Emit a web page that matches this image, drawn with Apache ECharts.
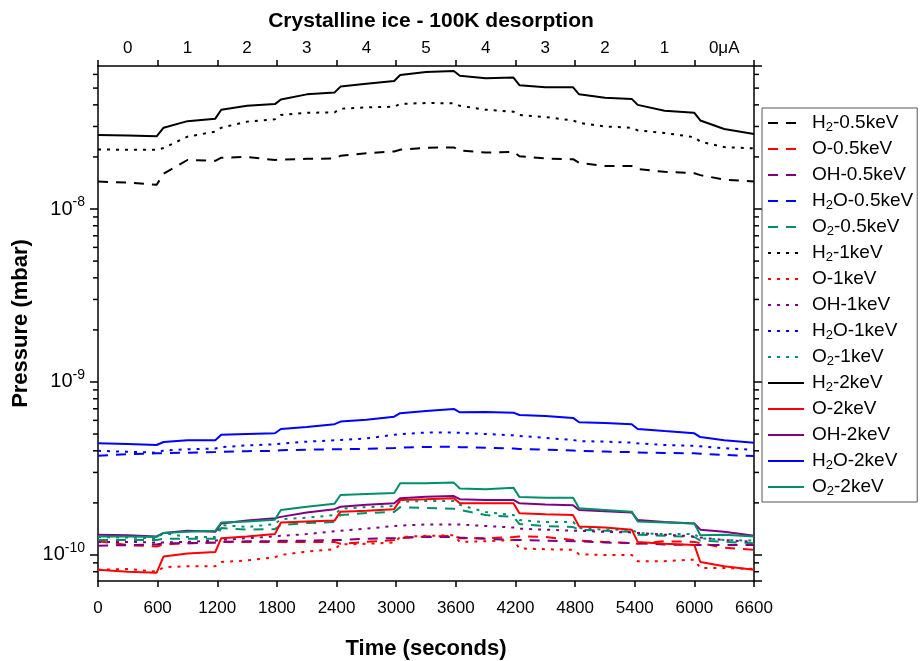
<!DOCTYPE html>
<html>
<head>
<meta charset="utf-8">
<script src="https://cdn.jsdelivr.net/npm/echarts@6/dist/echarts.min.js"></script>
<style>
  html, body { margin: 0; padding: 0; background: #fff; }
  #chart { width: 920px; height: 661px; }
</style>
</head>
<body>
<div id="chart"></div>
<script>
// time (s) of the sampled points
const times = [0, 300, 590, 660, 900, 1180, 1240, 1500, 1780, 1840, 2100, 2380, 2440, 2700, 2980, 3040, 3300,
  3580, 3640, 3900, 4180, 4240, 4500, 4780, 4840, 5100, 5370, 5430, 5700, 6000, 6060, 6300, 6600];

// beam current labels on the top axis
const currentLabels = ['0', '1', '2', '3', '4', '5', '4', '3', '2', '1', '0\u03bcA'];

// 0.5 keV (dashed)
const h2_05 = [1.44e-8, 1.42e-8, 1.38e-8, 1.6e-8, 1.92e-8, 1.9e-8, 1.98e-8, 2.0e-8, 1.92e-8, 1.93e-8, 1.95e-8, 1.96e-8,
  2.03e-8, 2.1e-8, 2.15e-8, 2.2e-8, 2.26e-8, 2.27e-8, 2.18e-8, 2.12e-8, 2.14e-8, 2.02e-8, 1.96e-8, 1.94e-8,
  1.85e-8, 1.77e-8, 1.77e-8, 1.7e-8, 1.64e-8, 1.61e-8, 1.57e-8, 1.48e-8, 1.44e-8];
const o_05 = [1.2e-10, 1.14e-10, 1.12e-10, 1.15e-10, 1.17e-10, 1.18e-10, 1.19e-10, 1.19e-10, 1.19e-10, 1.19e-10, 1.19e-10, 1.19e-10,
  1.16e-10, 1.19e-10, 1.22e-10, 1.25e-10, 1.28e-10, 1.29e-10, 1.25e-10, 1.25e-10, 1.27e-10, 1.28e-10, 1.27e-10, 1.22e-10,
  1.21e-10, 1.19e-10, 1.17e-10, 1.16e-10, 1.2e-10, 1.19e-10, 1.17e-10, 1.1e-10, 1.07e-10];
const oh_05 = [1.13e-10, 1.14e-10, 1.15e-10, 1.17e-10, 1.17e-10, 1.18e-10, 1.19e-10, 1.2e-10, 1.2e-10, 1.21e-10, 1.21e-10, 1.22e-10,
  1.22e-10, 1.24e-10, 1.25e-10, 1.26e-10, 1.27e-10, 1.27e-10, 1.26e-10, 1.24e-10, 1.22e-10, 1.22e-10, 1.21e-10, 1.2e-10,
  1.2e-10, 1.18e-10, 1.17e-10, 1.17e-10, 1.15e-10, 1.14e-10, 1.14e-10, 1.14e-10, 1.14e-10];
const h2o_05 = [3.75e-10, 3.82e-10, 3.87e-10, 3.88e-10, 3.9e-10, 3.94e-10, 3.95e-10, 3.98e-10, 4.0e-10, 4.03e-10, 4.06e-10, 4.08e-10,
  4.08e-10, 4.11e-10, 4.15e-10, 4.18e-10, 4.21e-10, 4.23e-10, 4.2e-10, 4.17e-10, 4.12e-10, 4.1e-10, 4.06e-10, 4.02e-10,
  3.99e-10, 3.96e-10, 3.93e-10, 3.91e-10, 3.89e-10, 3.87e-10, 3.85e-10, 3.79e-10, 3.73e-10];
const o2_05 = [1.22e-10, 1.22e-10, 1.22e-10, 1.24e-10, 1.24e-10, 1.24e-10, 1.43e-10, 1.4e-10, 1.41e-10, 1.49e-10, 1.53e-10, 1.55e-10,
  1.7e-10, 1.75e-10, 1.77e-10, 1.89e-10, 1.87e-10, 1.85e-10, 1.82e-10, 1.7e-10, 1.66e-10, 1.51e-10, 1.47e-10, 1.45e-10,
  1.4e-10, 1.38e-10, 1.36e-10, 1.31e-10, 1.29e-10, 1.27e-10, 1.21e-10, 1.19e-10, 1.17e-10];

// 1 keV (dotted)
const h2_1 = [2.21e-8, 2.2e-8, 2.2e-8, 2.25e-8, 2.62e-8, 2.8e-8, 2.95e-8, 3.2e-8, 3.3e-8, 3.5e-8, 3.6e-8, 3.62e-8,
  3.8e-8, 3.87e-8, 3.9e-8, 4.05e-8, 4.1e-8, 4.08e-8, 3.95e-8, 3.75e-8, 3.65e-8, 3.5e-8, 3.4e-8, 3.25e-8,
  3.15e-8, 3.0e-8, 2.95e-8, 2.85e-8, 2.75e-8, 2.6e-8, 2.45e-8, 2.28e-8, 2.24e-8];
const o_1 = [8.2e-11, 8.3e-11, 8.0e-11, 8.5e-11, 8.6e-11, 8.6e-11, 9.1e-11, 9.3e-11, 9.7e-11, 1.0e-10, 1.045e-10, 1.08e-10,
  1.15e-10, 1.16e-10, 1.18e-10, 1.27e-10, 1.29e-10, 1.3e-10, 1.19e-10, 1.2e-10, 1.22e-10, 1.09e-10, 1.08e-10, 1.07e-10,
  1.01e-10, 1.0e-10, 1.0e-10, 9.2e-11, 9.2e-11, 9.4e-11, 8.4e-11, 8.4e-11, 8.3e-11];
const oh_1 = [1.19e-10, 1.19e-10, 1.18e-10, 1.18e-10, 1.19e-10, 1.21e-10, 1.22e-10, 1.25e-10, 1.28e-10, 1.29e-10, 1.32e-10, 1.37e-10,
  1.38e-10, 1.42e-10, 1.47e-10, 1.48e-10, 1.5e-10, 1.5e-10, 1.5e-10, 1.47e-10, 1.44e-10, 1.42e-10, 1.4e-10, 1.38e-10,
  1.38e-10, 1.36e-10, 1.35e-10, 1.34e-10, 1.31e-10, 1.28e-10, 1.26e-10, 1.22e-10, 1.19e-10];
const h2o_1 = [4.0e-10, 3.95e-10, 3.9e-10, 4.02e-10, 4.08e-10, 4.12e-10, 4.2e-10, 4.3e-10, 4.36e-10, 4.4e-10, 4.52e-10, 4.6e-10,
  4.62e-10, 4.72e-10, 4.95e-10, 5.0e-10, 5.1e-10, 5.1e-10, 5.08e-10, 5.0e-10, 4.92e-10, 4.88e-10, 4.75e-10, 4.62e-10,
  4.55e-10, 4.52e-10, 4.46e-10, 4.42e-10, 4.32e-10, 4.27e-10, 4.25e-10, 4.14e-10, 4.05e-10];
const o2_1 = [1.27e-10, 1.26e-10, 1.25e-10, 1.34e-10, 1.27e-10, 1.27e-10, 1.49e-10, 1.45e-10, 1.51e-10, 1.61e-10, 1.64e-10, 1.7e-10,
  1.85e-10, 1.89e-10, 1.92e-10, 2.03e-10, 2.05e-10, 2.05e-10, 1.95e-10, 1.77e-10, 1.7e-10, 1.59e-10, 1.55e-10, 1.55e-10,
  1.43e-10, 1.4e-10, 1.4e-10, 1.34e-10, 1.32e-10, 1.32e-10, 1.25e-10, 1.22e-10, 1.21e-10];

// 2 keV (solid)
const h2_2 = [2.68e-8, 2.66e-8, 2.63e-8, 2.95e-8, 3.22e-8, 3.33e-8, 3.75e-8, 3.95e-8, 4.04e-8, 4.3e-8, 4.6e-8, 4.72e-8,
  5.1e-8, 5.3e-8, 5.5e-8, 5.95e-8, 6.2e-8, 6.28e-8, 5.9e-8, 5.7e-8, 5.75e-8, 5.2e-8, 5.05e-8, 5.05e-8,
  4.6e-8, 4.4e-8, 4.33e-8, 4.0e-8, 3.7e-8, 3.6e-8, 3.25e-8, 2.9e-8, 2.71e-8];
const o_2 = [8.2e-11, 8.0e-11, 7.9e-11, 9.8e-11, 1.02e-10, 1.04e-10, 1.25e-10, 1.28e-10, 1.32e-10, 1.54e-10, 1.56e-10, 1.58e-10,
  1.78e-10, 1.8e-10, 1.84e-10, 2.08e-10, 2.1e-10, 2.13e-10, 1.99e-10, 1.99e-10, 1.99e-10, 1.74e-10, 1.72e-10, 1.7e-10,
  1.46e-10, 1.44e-10, 1.4e-10, 1.19e-10, 1.16e-10, 1.14e-10, 9.1e-11, 8.6e-11, 8.2e-11];
const oh_2 = [1.31e-10, 1.3e-10, 1.28e-10, 1.34e-10, 1.38e-10, 1.36e-10, 1.52e-10, 1.58e-10, 1.63e-10, 1.66e-10, 1.76e-10, 1.84e-10,
  1.9e-10, 1.95e-10, 1.99e-10, 2.13e-10, 2.17e-10, 2.19e-10, 2.1e-10, 2.08e-10, 2.08e-10, 1.99e-10, 1.96e-10, 1.94e-10,
  1.82e-10, 1.79e-10, 1.76e-10, 1.59e-10, 1.55e-10, 1.52e-10, 1.4e-10, 1.36e-10, 1.29e-10];
const h2o_2 = [4.42e-10, 4.38e-10, 4.32e-10, 4.5e-10, 4.6e-10, 4.6e-10, 4.95e-10, 5.0e-10, 5.05e-10, 5.35e-10, 5.5e-10, 5.7e-10,
  5.9e-10, 6.05e-10, 6.3e-10, 6.6e-10, 6.8e-10, 6.98e-10, 6.68e-10, 6.7e-10, 6.65e-10, 6.44e-10, 6.35e-10, 6.2e-10,
  5.85e-10, 5.8e-10, 5.7e-10, 5.35e-10, 5.2e-10, 5.05e-10, 4.8e-10, 4.6e-10, 4.46e-10];
const o2_2 = [1.28e-10, 1.28e-10, 1.27e-10, 1.34e-10, 1.36e-10, 1.38e-10, 1.54e-10, 1.56e-10, 1.6e-10, 1.82e-10, 1.9e-10, 1.98e-10,
  2.22e-10, 2.25e-10, 2.28e-10, 2.6e-10, 2.6e-10, 2.62e-10, 2.42e-10, 2.4e-10, 2.45e-10, 2.16e-10, 2.14e-10, 2.14e-10,
  1.86e-10, 1.82e-10, 1.78e-10, 1.56e-10, 1.54e-10, 1.52e-10, 1.3e-10, 1.31e-10, 1.28e-10];

const yMin = 7.07e-11;
const yMax = 6.71e-8;
const FONT = 'Arial, "Liberation Sans", sans-serif';

const colors = { H2: '#000000', O: '#ff0000', OH: '#800080', H2O: '#0000ff', O2: '#008f6b' };
const dashed = [10, 8];
const dotted = [3, 6];

const lines = [
  { name: 'H2-0.5keV', data: h2_05, color: colors.H2, dash: dashed },
  { name: 'O-0.5keV', data: o_05, color: colors.O, dash: dashed },
  { name: 'OH-0.5keV', data: oh_05, color: colors.OH, dash: dashed },
  { name: 'H2O-0.5keV', data: h2o_05, color: colors.H2O, dash: dashed },
  { name: 'O2-0.5keV', data: o2_05, color: colors.O2, dash: dashed },
  { name: 'H2-1keV', data: h2_1, color: colors.H2, dash: dotted },
  { name: 'O-1keV', data: o_1, color: colors.O, dash: dotted },
  { name: 'OH-1keV', data: oh_1, color: colors.OH, dash: dotted },
  { name: 'H2O-1keV', data: h2o_1, color: colors.H2O, dash: dotted },
  { name: 'O2-1keV', data: o2_1, color: colors.O2, dash: dotted },
  { name: 'H2-2keV', data: h2_2, color: colors.H2, dash: 'solid' },
  { name: 'O-2keV', data: o_2, color: colors.O, dash: 'solid' },
  { name: 'OH-2keV', data: oh_2, color: colors.OH, dash: 'solid' },
  { name: 'H2O-2keV', data: h2o_2, color: colors.H2O, dash: 'solid' },
  { name: 'O2-2keV', data: o2_2, color: colors.O2, dash: 'solid' }
];

const chart = echarts.init(document.getElementById('chart'));

function powLabel(v) {
  const e = Math.round(Math.log10(v));
  if (Math.abs(Math.log10(v) - e) > 1e-6) return '';
  return '10{sup|' + e + '}';
}

function legendLabel(name) {
  const i = name.indexOf('-');
  return name.slice(0, i).replace('2', '{sub|2}') + name.slice(i);
}

const axisLineStyle = { color: '#000', width: 1.5 };

chart.setOption({
  animation: false,
  backgroundColor: '#fff',
  textStyle: { fontFamily: FONT },
  title: {
    text: 'Crystalline ice - 100K desorption',
    left: 426,
    textAlign: 'center',
    top: 6,
    textStyle: { fontFamily: FONT, fontSize: 21, fontWeight: 'bold', color: '#000' }
  },
  grid: { left: 98, right: 166, top: 66, bottom: 80, containLabel: false, outerBoundsMode: 'none' },
  legend: {
    orient: 'vertical',
    left: 762,
    top: 108,
    padding: [4, 4, 4, 5],
    itemWidth: 36,
    itemHeight: 14,
    itemGap: 4,
    selectedMode: false,
    borderColor: '#555',
    borderWidth: 1,
    itemStyle: { opacity: 0 },
    formatter: legendLabel,
    textStyle: {
      fontFamily: FONT, fontSize: 19, color: '#000', lineHeight: 22, padding: [0, 0, 0, 3],
      rich: { sub: { fontFamily: FONT, fontSize: 13, lineHeight: 12, verticalAlign: 'bottom', color: '#000' } }
    },
    data: lines.map(l => l.name)
  },
  xAxis: [
    {
      type: 'value',
      min: 0,
      max: 6600,
      interval: 600,
      name: 'Time (seconds)',
      nameLocation: 'middle',
      nameGap: 57,
      nameTextStyle: { fontFamily: FONT, fontSize: 22, fontWeight: 'bold', color: '#000' },
      axisLine: { show: true, lineStyle: axisLineStyle },
      axisTick: { show: true, length: 6, lineStyle: axisLineStyle },
      axisLabel: { fontFamily: FONT, fontSize: 17, color: '#000', margin: 19, formatter: v => String(v) },
      splitLine: { show: false }
    },
    {
      type: 'category',
      position: 'top',
      boundaryGap: true,
      data: currentLabels.map((_, i) => String(i)),
      axisLine: { show: true, lineStyle: axisLineStyle },
      axisTick: { show: true, length: 6, alignWithLabel: false, lineStyle: axisLineStyle },
      axisLabel: {
        fontFamily: FONT, fontSize: 17, color: '#000', margin: 9,
        formatter: (v, i) => currentLabels[i]
      },
      splitLine: { show: false }
    }
  ],
  yAxis: [
    {
      type: 'log',
      min: yMin,
      max: yMax,
      name: 'Pressure (mbar)',
      nameLocation: 'middle',
      nameGap: 65,
      nameTextStyle: { fontFamily: FONT, fontSize: 22, fontWeight: 'bold', color: '#000' },
      axisLine: { show: true, lineStyle: axisLineStyle },
      axisTick: { show: true, length: 8, lineStyle: axisLineStyle },
      axisLabel: {
        fontFamily: FONT, fontSize: 20, color: '#000', margin: 13, lineHeight: 28,
        showMinLabel: false, showMaxLabel: false,
        formatter: powLabel,
        rich: { sup: { fontFamily: FONT, fontSize: 14, lineHeight: 14, verticalAlign: 'top', color: '#000' } }
      },
      splitLine: { show: false }
    },
    {
      type: 'log',
      position: 'right',
      min: yMin,
      max: yMax,
      axisLine: { show: true, lineStyle: axisLineStyle },
      axisTick: { show: true, length: 8, lineStyle: axisLineStyle },
      axisLabel: { show: false },
      splitLine: { show: false }
    }
  ],
  series: lines.map(l => ({
    name: l.name,
    type: 'line',
    xAxisIndex: 0,
    yAxisIndex: 0,
    symbol: 'none',
    showSymbol: false,
    color: l.color,
    lineStyle: { color: l.color, width: 2, type: l.dash },
    data: times.map((t, i) => [t, l.data[i]])
  }))
});

// minor log ticks (2..9 x 10^n) on left and right axes
function drawMinorTicks() {
  const xl = chart.convertToPixel({ xAxisIndex: 0 }, 0);
  const xr = chart.convertToPixel({ xAxisIndex: 0 }, 6600);
  const els = [];
  for (let e = -11; e <= -8; e++) {
    for (let k = 2; k <= 9; k++) {
      const v = k * Math.pow(10, e);
      if (v <= yMin || v >= yMax) continue;
      const y = chart.convertToPixel({ yAxisIndex: 0 }, v);
      els.push({ type: 'line', shape: { x1: xl - 5, y1: y, x2: xl, y2: y }, style: { stroke: '#000', lineWidth: 1.5 } });
      els.push({ type: 'line', shape: { x1: xr, y1: y, x2: xr + 5, y2: y }, style: { stroke: '#000', lineWidth: 1.5 } });
    }
  }
  chart.setOption({ graphic: els });
}
drawMinorTicks();
</script>
</body>
</html>
